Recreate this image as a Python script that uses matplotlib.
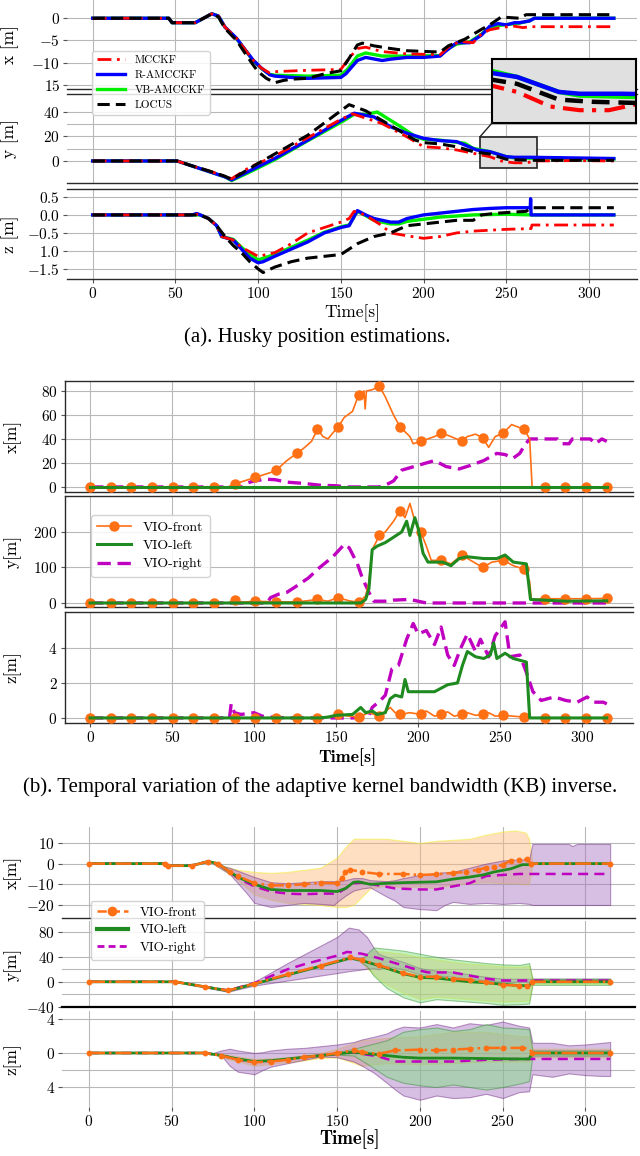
import numpy as np
import matplotlib
matplotlib.use('Agg')
import matplotlib.pyplot as plt
from matplotlib.patches import Rectangle, ConnectionPatch
from matplotlib.lines import Line2D

plt.rcParams['font.family'] = ['cmr10', 'DejaVu Serif']
plt.rcParams['mathtext.fontset'] = 'cm'
plt.rcParams['axes.formatter.use_mathtext'] = True

# ---------------- (a) Husky position estimations: (t, value) ----------------
a_x_red = [(0, 0), (46, 0), (48, -1), (62, -1), (72, 1), (76, 0.5), (80, -2), (87, -4.5), (92, -7), (97, -9.4),
           (102, -11.2), (107, -12.3), (110, -12), (130, -11.7), (150, -11.5), (155, -9), (160, -6.8), (165, -6.5),
           (175, -7.5), (190, -8), (210, -8.2), (215, -6.5), (222, -5.2), (230, -5.5), (235, -3.5), (240, -2.6),
           (248, -2), (255, -1.8), (260, -2.1), (265, -1.9), (315, -1.9)]
a_x_blue = [(0, 0), (46, 0), (48, -1), (62, -1), (72, 1), (76, 0.5), (80, -2), (87, -4.5), (92, -7), (97, -9.4),
            (102, -11.2), (107, -12.7), (110, -13), (120, -13.3), (130, -13.5), (150, -13.3), (153, -12.5),
            (160, -9.5), (165, -8.8), (175, -9.5), (180, -9.2), (190, -8.8), (200, -8.8), (210, -8.5), (213, -7.5),
            (220, -5.5), (228, -5.5), (235, -3.8), (240, -1.8), (245, -1.2), (250, -1.5), (255, -1.0), (258, -1.0),
            (264, -0.6), (267, 0), (315, 0)]
a_x_green = [(0, 0), (46, 0), (48, -1), (62, -1), (72, 1), (76, 0.5), (80, -2), (87, -4.6), (92, -7.1), (97, -9.5),
             (102, -11.3), (107, -12.6), (110, -12.8), (130, -13), (150, -12.8), (154, -11.5), (160, -8.5),
             (165, -7.8), (175, -8.5), (190, -8.5), (210, -8.4), (214, -7), (220, -5.8), (228, -5.3), (235, -3.6),
             (240, -2), (248, -1.5), (258, -1.1), (264, -0.6), (267, 0), (315, 0)]
a_x_black = [(0, 0), (46, 0), (48, -1), (62, -1), (72, 1), (76, 0.3), (80, -2.3), (87, -5), (92, -7.8), (97, -10.5),
             (100, -12), (105, -13.5), (110, -14.5), (115, -14), (120, -13.7), (130, -13.5), (140, -12.5),
             (150, -11.8), (155, -9), (160, -6), (163, -5.6), (170, -6.2), (180, -6.8), (190, -7.3), (210, -7.6),
             (215, -6.2), (225, -4.7), (235, -2.5), (240, -1.5), (247, 0.3), (250, 0.2), (258, 0), (262, 0.8),
             (315, 0.8)]

a_y_red = [(0, 0), (51, 0), (60, -4), (70, -8), (80, -12.5), (84, -14.5), (95, -5), (110, 4), (130, 19), (150, 34),
           (157, 38.5), (165, 35), (175, 30.5), (190, 19.7), (200, 11.6), (210, 10.8), (220, 9), (230, 6.3),
           (240, 3.5), (248, -0.5), (255, -1.5), (262, -1.5), (268, 0), (290, 0.3), (315, 0)]
a_y_blue = [(0, 0), (51, 0), (60, -4), (70, -8.5), (80, -13), (84, -15.5), (95, -8), (110, 2), (130, 17), (150, 33),
            (158, 39), (170, 36), (180, 28), (190, 22.6), (200, 18.5), (210, 16.6), (220, 15.8), (225, 13),
            (232, 9), (240, 7.6), (250, 3.5), (255, 3), (265, 3), (290, 2.5), (315, 2)]
a_y_green = [(0, 0), (51, 0), (60, -4), (70, -8.5), (80, -13), (84, -16), (95, -9), (110, 1), (130, 16.5),
             (150, 31.5), (158, 38), (165, 38), (172, 40), (185, 29), (195, 20), (200, 17.7), (210, 17), (225, 14.4),
             (230, 10.3), (240, 7.6), (250, 3.5), (255, 2.5), (265, 2.2), (290, 1.8), (315, 1.5)]
a_y_black = [(0, 0), (51, 0), (60, -4), (70, -8), (80, -12.5), (84, -15), (100, -2), (130, 21), (145, 36), (155, 46),
             (165, 41), (175, 33), (185, 25), (195, 17), (200, 15), (210, 13.9), (220, 11.6), (230, 7.6), (240, 5.7),
             (250, 1.4), (258, 0.8), (268, 0.5), (315, 0.5)]

a_z_red = [(0, 0), (60, 0), (63, 0.02), (65, 0), (70, -0.1), (75, -0.3), (78, -0.6), (85, -0.7), (90, -0.9),
           (100, -1.15), (110, -1.05), (120, -0.8), (130, -0.5), (140, -0.35), (150, -0.2), (155, -0.1), (158, 0.1),
           (162, 0.05), (168, -0.1), (175, -0.3), (180, -0.5), (190, -0.58), (200, -0.65), (210, -0.6), (220, -0.5),
           (230, -0.45), (250, -0.4), (265, -0.38), (265.5, -0.28), (315, -0.28)]
a_z_blue = [(0, 0), (60, 0), (63, 0.04), (65, 0), (70, -0.1), (75, -0.3), (78, -0.6), (85, -0.7), (90, -0.95),
            (95, -1.2), (100, -1.33), (103, -1.3), (110, -1.15), (120, -0.95), (130, -0.75), (140, -0.5),
            (150, -0.35), (155, -0.3), (160, 0.12), (165, 0.0), (170, -0.1), (180, -0.2), (185, -0.2), (190, -0.1),
            (200, 0.0), (210, 0.05), (220, 0.1), (230, 0.15), (240, 0.18), (250, 0.2), (264.5, 0.2), (264.7, 0.45),
            (265, 0), (315, 0)]
a_z_green = [(0, 0), (60, 0), (65, 0), (70, -0.1), (75, -0.3), (78, -0.6), (85, -0.68), (90, -0.9), (95, -1.1),
             (100, -1.25), (110, -1.1), (120, -0.9), (130, -0.7), (140, -0.48), (150, -0.33), (155, -0.28),
             (160, 0.1), (165, -0.02), (170, -0.15), (180, -0.25), (185, -0.25), (190, -0.18), (200, -0.12),
             (210, -0.06), (220, -0.03), (230, 0), (250, 0.02), (265, 0.0), (315, 0)]
a_z_black = [(0, 0), (60, 0), (65, 0), (70, -0.1), (75, -0.3), (80, -0.6), (85, -0.85), (90, -1.05), (95, -1.3),
             (100, -1.5), (103, -1.6), (110, -1.45), (120, -1.3), (130, -1.2), (150, -1.1), (155, -0.95), (160, -0.8),
             (170, -0.6), (180, -0.5), (190, -0.3), (200, -0.25), (210, -0.2), (220, -0.15), (230, -0.15), (235, 0.0),
             (245, 0.05), (255, 0.08), (262, 0.1), (265, 0.2), (315, 0.2)]

zoom_box = (234, 268.5, -5.7, 19.6)   # t0, t1, y0, y1 of the zoomed region
zoom_ylim = (-5, 12.5)

# ---------------- (b) kernel bandwidth inverse ----------------
mark_step = 12.6
b_x_front = [(0, 0), (12.6, 0), (25.2, 0), (37.8, 0), (50.4, 0), (63, 0), (75.6, 0), (84, 0), (88.2, 2.5),
             (100.8, 8), (110, 12), (113.4, 14), (120, 22), (126, 28), (130, 32), (135, 38), (138.6, 48), (142, 42),
             (145, 40), (148, 45), (151.2, 50), (155, 58), (160, 63), (163.8, 77), (167, 80), (167.7, 65),
             (168.5, 80), (172, 81), (176.4, 84), (180, 75), (185, 60), (189, 50), (195, 42), (197, 36), (201.6, 38),
             (210, 42), (214.2, 45), (220, 42), (226.8, 38), (230, 42), (235, 44), (239.4, 41), (243, 33), (247, 42),
             (252, 45), (257, 52), (264.6, 48), (268, 40), (269.5, 0), (277.2, 0), (289.8, 0), (302.4, 0), (315, 0)]
b_y_front = [(0, 0), (12.6, 0), (25.2, 0), (37.8, 0), (50.4, 0), (63, 0), (75.6, 0), (84, 0), (88.2, 8), (92, 2),
             (100.8, 5), (113.4, 3), (126, 3), (132, 6), (138.6, 10), (145, 5), (151.2, 15), (158, 6), (163.8, 2),
             (168, 20), (170, 60), (172, 150), (176.4, 190), (180, 200), (185, 230), (189, 260), (192, 240),
             (195, 280), (198, 230), (201.6, 200), (205, 160), (208, 120), (214.2, 120), (220, 110), (226.8, 135),
             (232, 120), (239.4, 100), (245, 115), (252, 120), (258, 105), (264.6, 95), (268, 60), (269, 10),
             (277.2, 12), (289.8, 12), (302.4, 12), (315, 13)]
b_z_front = [(0, 0), (12.6, 0), (25.2, 0), (37.8, 0), (50.4, 0), (63, 0), (75.6, 0), (88.2, 0), (100.8, 0),
             (113.4, 0), (126, 0), (138.6, 0), (145, 0.05), (151.2, 0.2), (158, 0.1), (163.8, 0.05), (170, 0.3),
             (176.4, 0.1), (183, 0.6), (186, 0.3), (189, 0.2), (195, 0.3), (201.6, 0.2), (205, 0.4), (210, 0.1),
             (214.2, 0.2), (218, 0.35), (222, 0.1), (226.8, 0.2), (230, 0.3), (235, 0.15), (239.4, 0.2), (243, 0.3),
             (247, 0.1), (252, 0.15), (258, 0.1), (264.6, 0.05), (268, 0), (277.2, 0), (289.8, 0), (302.4, 0),
             (315, 0)]
b_x_left = [(0, 0), (315, 0)]
b_y_left = [(0, 0), (165, 0), (168, 10), (170, 40), (172, 150), (175, 160), (180, 170), (185, 185), (190, 200),
            (193, 230), (195, 190), (198, 240), (200, 210), (203, 140), (206, 115), (215, 115), (220, 105), (225, 125),
            (230, 130), (240, 125), (248, 125), (253, 135), (258, 115), (266, 110), (268.5, 10), (290, 5), (315, 6)]
b_z_left = [(0, 0), (140, 0), (145, 0.05), (150, 0.15), (160, 0.2), (165, 0.6), (168, 0.3), (172, 0.4), (175, 0.2),
            (180, 0.3), (183, 1.1), (186, 1.3), (190, 1.2), (192, 2.2), (194, 1.5), (200, 1.5), (210, 1.5),
            (218, 1.9), (224, 2.0), (227, 3.0), (230, 3.8), (235, 3.5), (240, 3.4), (244, 3.6), (246, 4.3),
            (248, 3.4), (253, 3.7), (258, 3.4), (266, 3.2), (268, 0), (315, 0)]
b_x_right = [(0, 0), (93, 0), (95, 3), (100, 5), (107, 6.5), (113, 6), (120, 4), (130, 3), (140, 1.5), (150, 1),
             (157, 0), (176, 0), (180, 1.5), (185, 5), (190, 14), (200, 18), (210, 22), (217, 17), (225, 15),
             (232, 18), (240, 22), (248, 28), (253, 27), (258, 24), (262, 28), (265, 35), (268, 40), (285, 40),
             (288, 36), (292, 36), (294, 40), (305, 40), (308, 36), (312, 40), (315, 38)]
b_y_right = [(0, 0), (108, 0), (110, 15), (115, 25), (120, 30), (125, 45), (133, 70), (140, 100), (148, 130),
             (155, 165), (158, 155), (163, 110), (166, 70), (170, 30), (173, 5), (180, 5), (185, 8), (195, 10),
             (200, 5), (205, 0), (315, 0)]
b_z_right = [(0, 0), (85, 0), (86, 0.8), (88, 0.3), (92, 0.2), (100, 0.3), (105, 0.1), (110, 0.05), (120, 0),
             (160, 0), (170, 0.1), (172, 0.6), (177, 1.0), (180, 1.3), (184, 2.8), (188, 3.0), (193, 4.5), (197, 5.4),
             (200, 4.8), (205, 5.0), (210, 4.2), (214, 5.2), (218, 3.6), (222, 3.0), (226, 4.0), (230, 4.8),
             (235, 3.8), (238, 4.5), (243, 3.5), (247, 4.7), (253, 5.5), (256, 3.5), (262, 3.6), (266, 2.6),
             (270, 1.5), (275, 1.0), (283, 1.2), (290, 1.0), (297, 0.9), (303, 1.2), (307, 0.9), (313, 0.9),
             (315, 0.8)]

# ---------------- (c) VIO estimates with bounds ----------------
c_x_front = [(0, 0), (46, 0), (48, -1), (62, -1), (72, 1), (78, 0), (85, -4), (90, -6), (100, -9.5), (110, -10.5),
             (120, -10.5), (130, -10), (140, -9.3), (150, -9.5), (153, -7), (155, -4), (158, -3), (165, -4),
             (175, -5), (190, -5), (200, -5.5), (210, -5.2), (220, -4.5), (228, -4), (235, -3), (240, -2),
             (245, -1.5), (250, -0.5), (255, 1.5), (260, 1.8), (265, 2), (267, 0), (315, 0)]
c_x_left = [(0, 0), (46, 0), (48, -1), (62, -1), (72, 1), (78, 0), (85, -4), (90, -6.5), (100, -10), (110, -12.5),
            (120, -13), (140, -13), (150, -13.5), (155, -12), (160, -9), (163, -8.8), (170, -10), (180, -9.5),
            (190, -9.2), (200, -9), (210, -8.8), (220, -7.5), (230, -6.5), (238, -5.5), (245, -4), (255, -2.5),
            (262, -0.5), (266, -0.5), (268, 0), (315, 0)]
c_x_right = [(0, 0), (46, 0), (48, -1), (62, -1), (72, 1), (78, 0), (85, -4), (90, -7), (100, -11), (110, -13.5),
             (120, -14.5), (130, -14.8), (140, -14.5), (150, -14.5), (155, -12), (160, -9.5), (165, -9.2),
             (175, -10.5), (185, -12), (200, -12.5), (210, -12.5), (220, -11), (230, -9.5), (240, -6), (250, -5.5),
             (260, -5), (315, -5)]
# bands: (t, lower, upper)
c_x_front_band = [(75, 0, 0), (85, -5, -2), (90, -8, -3), (100, -15, -4), (110, -17.5, -4.5), (120, -19, -4),
                  (130, -19.5, -3), (140, -20, -2), (150, -21, 3), (155, -21, 8), (160, -20, 12), (170, -12, 12),
                  (180, -10.5, 12), (190, -11.5, 11), (200, -11, 10), (210, -12, 11), (220, -10, 11.5),
                  (230, -9.5, 12), (240, -9, 14), (250, -9.5, 15.5), (258, -9.5, 16), (264, -10, 15),
                  (266, -10, 12), (268, 0, 0), (315, 0, 0)]
c_x_right_band = [(75, 0, 0), (85, -5, -2), (95, -14, -5), (100, -19, -6.5), (110, -21, -9), (120, -20, -9.5),
                  (130, -19, -9), (140, -19.5, -8.5), (148, -20, -8.5), (150, -18.5, -8.5), (155, -15.5, -8),
                  (160, -13, -7), (165, -12, -7), (170, -11.5, -8), (180, -16, -8.5), (185, -18, -8), (190, -21, -7),
                  (200, -22, -5.5), (210, -22.5, -4.5), (215, -20, -4.2), (220, -18.5, -4), (230, -19.5, -2),
                  (240, -19, 0), (250, -19.5, 1.5), (260, -19, 2), (266, -19.5, 2), (268, -20, 9.5), (290, -20, 9.5),
                  (292, -20, 8.5), (295, -20, 9.5), (315, -20, 9.5)]

c_y_front = [(0, 0), (52, 0), (70, -8), (84, -14), (100, -3), (120, 12), (140, 26), (158, 39), (165, 35), (175, 27),
             (190, 14), (200, 8), (210, 8), (220, 5), (230, 3), (240, -1), (250, -5), (260, -6), (265, -6), (268, 0),
             (315, 0)]
c_y_left = [(0, 0), (52, 0), (70, -8), (84, -14.5), (100, -3.5), (120, 11), (140, 25), (158, 38), (165, 34),
            (175, 26), (190, 13), (200, 7), (210, 6), (220, 3), (230, 0), (240, -1.5), (250, -4), (260, -6),
            (266, -6.5), (268, 0), (315, 0)]
c_y_right = [(0, 0), (52, 0), (70, -8), (84, -14), (100, -2), (120, 20), (130, 28), (140, 35), (150, 42), (156, 48),
             (165, 45), (175, 38), (180, 34), (190, 26), (200, 18), (205, 15), (220, 15), (230, 10), (240, 5),
             (250, 2), (315, 2)]
c_y_right_band = [(52, 0, 0), (70, -9, -7), (84, -16, -12), (100, -6, 0), (110, -2, 15), (120, 2, 30), (130, 6, 44),
                  (140, 10, 58), (150, 14, 72), (157, 17, 87), (163, 19, 84), (168, 21, 72), (172, 22, 55),
                  (175, 20, 45), (180, 25, 40), (190, 20, 32), (200, 12, 22), (210, 10, 18), (220, 8, 16),
                  (230, 5, 12), (240, 2, 8), (250, 0, 5), (315, 0, 5)]
c_y_left_band = [(165, 30, 36), (168, 25, 45), (172, 10, 55), (180, -10, 53), (190, -25, 50), (200, -33, 45),
                 (210, -28, 40), (220, -30, 36), (230, -32, 33), (240, -34, 30), (250, -37, 28), (260, -36, 27),
                 (266, -35, 30), (268, -5, 5), (315, -5, 5)]
c_y_front_band = [(165, 30, 36), (172, 12, 50), (180, -5, 48), (190, -18, 45), (200, -28, 40), (210, -24, 36),
                  (220, -26, 32), (230, -28, 29), (240, -30, 27), (250, -32, 25), (260, -31, 24), (266, -30, 26),
                  (268, -3, 3), (315, -3, 3)]

c_z_front = [(0, 0), (70, 0), (80, -0.3), (90, -0.8), (100, -1.1), (110, -1.0), (120, -0.8), (130, -0.5),
             (140, -0.3), (150, 0), (160, 0.3), (165, 0.1), (175, -0.1), (185, 0.3), (200, 0.4), (210, 0.3),
             (220, 0.4), (230, 0.5), (240, 0.6), (250, 0.6), (262, 0.6), (266, 0.5), (268, 0), (315, 0)]
c_z_left = [(0, 0), (70, 0), (80, -0.3), (90, -0.7), (100, -1.0), (110, -0.9), (120, -0.7), (130, -0.5), (140, -0.3),
            (150, -0.1), (160, 0.1), (170, -0.1), (180, -0.3), (190, -0.5), (200, -0.6), (220, -0.6), (240, -0.65),
            (260, -0.7), (266, -0.7), (268, 0), (315, 0)]
c_z_right = [(0, 0), (70, 0), (80, -0.3), (90, -0.75), (100, -1.05), (110, -0.95), (120, -0.75), (130, -0.5),
             (140, -0.3), (150, -0.1), (160, 0.05), (175, -0.4), (185, -1.0), (200, -1.0), (220, -1.0), (240, -0.8),
             (260, -0.7), (315, -0.7)]
c_z_right_band = [(75, 0, 0), (80, -0.3, 0.3), (85, -1.5, 0.5), (90, -2.2, 0.3), (100, -2.5, 0.0), (105, -2.0, 0.1),
                  (110, -1.6, 0.3), (120, -1.2, 0.5), (130, -0.8, 0.6), (140, -0.4, 0.8), (150, -0.5, 1.0),
                  (160, -1.0, 1.3), (165, -1.5, 1.6), (172, -2.3, 1.9), (180, -3.5, 2.3), (185, -4.3, 2.8),
                  (190, -5.0, 3.1), (200, -5.5, 3.0), (210, -5.0, 3.4), (220, -5.3, 3.0), (230, -5.2, 3.5),
                  (240, -4.8, 3.3), (250, -5.3, 3.7), (260, -4.6, 3.2), (266, -4.5, 3.0), (268, -2.5, 1.2),
                  (280, -2.8, 1.2), (290, -2.4, 0.9), (300, -2.6, 1.0), (310, -2.7, 1.2), (315, -2.7, 1.3)]
c_z_left_band = [(150, -0.2, 0.1), (160, -0.3, 0.5), (170, -1.5, 1.0), (180, -2.8, 1.5), (190, -3.5, 2.5),
                 (200, -3.8, 2.8), (210, -4.0, 3.0), (220, -3.7, 2.6), (230, -4.0, 2.8), (240, -4.3, 3.4),
                 (250, -4.0, 3.0), (260, -3.6, 2.9), (266, -3.3, 2.8), (268, -0.3, 0.3), (315, -0.3, 0.3)]
c_z_front_band = [(80, -0.5, -0.1), (100, -1.5, -0.7), (120, -1.1, -0.5), (140, -0.6, 0), (150, -0.5, 0.5),
                  (165, -1.5, 1.5), (180, -1.2, 1.8), (200, -1.3, 2.0), (220, -1.2, 2.5), (240, -1.0, 2.5),
                  (260, -1.0, 2.0), (266, -1.0, 2.0), (268, -0.5, 0.5), (315, -0.5, 0.5)]

time_ticks = [0, 50, 100, 150, 200, 250, 300]

ORANGE = '#ff6f14'
GREEN = '#1f8a1f'
MAGENTA = '#c000c0'

W, H = 640, 1156


def rect(left, right, top, bottom):
    return [left / W, 1 - bottom / H, (right - left) / W, (bottom - top) / H]


def cols(a):
    a = np.array(a, dtype=float)
    return [a[:, i] for i in range(a.shape[1])]


def style(ax, xlim, ylim, spines, bottom_axis=False, spine_lw=1.0):
    ax.set_xlim(xlim)
    ax.set_ylim(ylim)
    for s in ['left', 'right', 'top', 'bottom']:
        ax.spines[s].set_visible(s in spines)
        ax.spines[s].set_color('#2a2a2a')
        ax.spines[s].set_linewidth(spine_lw)
    ax.set_xticks(time_ticks)
    ax.grid(True, which='both', color='#b8b8b8', lw=0.8)
    ax.set_axisbelow(True)
    ax.tick_params(labelsize=11, length=3, width=0.8, color='#555555', pad=2)
    ax.tick_params(which='minor', length=0)
    if not bottom_axis:
        ax.tick_params(axis='x', labelbottom=False, length=0)


fig = plt.figure(figsize=(6.4, 11.56), dpi=100)

# ======================= (a) =======================
a_xlim = (-15.5, 329)
ax_a = [fig.add_axes(rect(67, 637, 0, 89)),
        fig.add_axes(rect(67, 637, 94, 183)),
        fig.add_axes(rect(67, 637, 189, 279))]
a_sets = [(a_x_red, a_x_blue, a_x_green, a_x_black),
          (a_y_red, a_y_blue, a_y_green, a_y_black),
          (a_z_red, a_z_blue, a_z_green, a_z_black)]
a_handles = []
for ax, (r, b, g, k) in zip(ax_a, a_sets):
    hg, = ax.plot(*cols(g), color='#00ee00', lw=2.4, zorder=2)
    hb, = ax.plot(*cols(b), color='#0000ff', lw=2.4, zorder=3)
    hr, = ax.plot(*cols(r), color='#ff0000', lw=2.0, ls=(0, (5, 2, 1, 2)), zorder=4)
    hk, = ax.plot(*cols(k), color='black', lw=2.2, ls=(0, (4, 2)), zorder=5)
    a_handles = [hr, hb, hg, hk]

style(ax_a[0], a_xlim, (-15.9, 4.1), ['bottom'])
ax_a[0].set_yticks([-15, -10, -5, 0], ['$15$', '$-10$', '$-5$', '$0$'])
style(ax_a[1], a_xlim, (-18, 54.7), ['top', 'bottom'])
ax_a[1].set_yticks([0, 20, 40])
ax_a[1].set_yticks([10, 30], minor=True)
style(ax_a[2], a_xlim, (-1.78, 0.72), ['top', 'bottom'], bottom_axis=True)
ax_a[2].set_yticks([-1.5, -1.0, -0.5, 0.0, 0.5], ['$-1.5$', '$1.0$', '$-0.5$', '$0.0$', '$0.5$'])
for ax, lab in zip(ax_a, ['x [m]', 'y [m]', 'z [m]']):
    ax.set_ylabel(lab, fontsize=12.5)
    ax.yaxis.set_label_coords(-0.084, 0.5)

# zoom inset
t0, t1, y0, y1 = zoom_box
ax_a[1].add_patch(Rectangle((t0, y0), t1 - t0, y1 - y0, fc='#e0e0e0', ec='#222222', lw=1.2, zorder=1.5))
ins = fig.add_axes(rect(492, 636, 59, 123), zorder=3)
ins.set_facecolor('#e0e0e0')
ins.plot(*cols(a_y_green), color='#00ee00', lw=3.2)
ins.plot(*cols(a_y_blue), color='#0000ff', lw=3.2)
ins.plot(*cols(a_y_red), color='#ff0000', lw=3.0, ls=(0, (5, 2, 1, 2)))
ins.plot(*cols(a_y_black), color='black', lw=3.2, ls=(0, (4, 2)))
ins.set_xlim(t0, t1)
ins.set_ylim(zoom_ylim)
ins.set_xticks([])
ins.set_yticks([])
for s in ins.spines.values():
    s.set_linewidth(1.5)
con = ConnectionPatch(xyA=(t0, y1), coordsA=ax_a[1].transData, xyB=(0, 0), coordsB=ins.transAxes,
                      color='#222222', lw=1.0, zorder=4)
fig.add_artist(con)

fig.legend(a_handles, ['MCCKF', 'R-AMCCKF', 'VB-AMCCKF', 'LOCUS'], loc='upper left',
           bbox_to_anchor=(86 / W, 1 - 45 / H), fontsize=8, handlelength=2.6, labelspacing=0.45,
           borderpad=0.45, handletextpad=0.8, fancybox=True, framealpha=0.85)
fig.text(352 / W, 1 - 313 / H, 'Time[s]', ha='center', va='center', fontsize=12.5)
fig.text(317 / W, 1 - 337 / H, '(a). Husky position estimations.', ha='center', va='center',
         fontsize=15, family='Liberation Serif')

# ======================= (b) =======================
b_xlim = (-15.6, 331)
ax_b = [fig.add_axes(rect(64.5, 633, 381, 492)),
        fig.add_axes(rect(64.5, 633, 496, 607)),
        fig.add_axes(rect(64.5, 633, 612, 723))]
b_sets = [(b_x_front, b_x_left, b_x_right), (b_y_front, b_y_left, b_y_right), (b_z_front, b_z_left, b_z_right)]
for ax, (f, l, r) in zip(ax_b, b_sets):
    tf, vf = cols(f)
    k = np.round(tf / mark_step)
    marks = list(np.where(np.abs(tf - k * mark_step) < 0.05)[0])
    hf, = ax.plot(tf, vf, color=ORANGE, lw=1.2, marker='o', ms=6.5, markevery=marks, zorder=3)
    hl, = ax.plot(*cols(l), color=GREEN, lw=2.2, zorder=4)
    hr, = ax.plot(*cols(r), color=MAGENTA, lw=2.4, dashes=(4, 2), zorder=2)
    b_handles = [hf, hl, hr]
style(ax_b[0], b_xlim, (-4.2, 88.3), ['left', 'top', 'bottom'])
ax_b[0].set_yticks([0, 20, 40, 60, 80])
style(ax_b[1], b_xlim, (-11.3, 301), ['left', 'top', 'bottom'])
ax_b[1].set_yticks([0, 100, 200])
style(ax_b[2], b_xlim, (-0.29, 6.06), ['left', 'top', 'bottom'], bottom_axis=True)
ax_b[2].set_yticks([0, 2, 4])
for ax, lab in zip(ax_b, ['x[m]', 'y[m]', 'z[m]']):
    ax.set_ylabel(lab, fontsize=12.5)
    ax.yaxis.set_label_coords(-0.075, 0.5)
fig.legend(b_handles, ['VIO-front', 'VIO-left', 'VIO-right'], loc='upper left',
           bbox_to_anchor=(84 / W, 1 - 508 / H), fontsize=10, handlelength=2.4, labelspacing=0.4,
           borderpad=0.45, handletextpad=0.9, framealpha=0.85)
fig.text(347 / W, 1 - 757 / H, 'Time[s]', ha='center', va='center', fontsize=13, family='cmb10')
fig.text(320 / W, 1 - 787 / H, '(b). Temporal variation of the adaptive kernel bandwidth (KB) inverse.',
         ha='center', va='center', fontsize=15, family='Liberation Serif')

# ======================= (c) =======================
c_xlim = (-16.3, 330)
ax_c = [fig.add_axes(rect(62, 635, 827, 918)),
        fig.add_axes(rect(62, 635, 921, 1007)),
        fig.add_axes(rect(62, 635, 1011, 1107))]
c_bands = [(c_x_front_band, c_x_right_band, None),
           (c_y_front_band, c_y_right_band, c_y_left_band),
           (c_z_front_band, c_z_right_band, c_z_left_band)]
c_sets = [(c_x_front, c_x_left, c_x_right), (c_y_front, c_y_left, c_y_right), (c_z_front, c_z_left, c_z_right)]
for ax, (bf, br, bl), (f, l, r) in zip(ax_c, c_bands, c_sets):
    t, lo, hi = cols(bf)
    ax.fill_between(t, lo, hi, fc='#ffb878', alpha=0.45, ec='#f0f020', lw=0.9, zorder=1)
    t, lo, hi = cols(br)
    ax.fill_between(t, lo, hi, fc='#a673c2', alpha=0.45, ec='#6b1f7d', lw=0.8, zorder=1.1)
    if bl is not None:
        t, lo, hi = cols(bl)
        ax.fill_between(t, lo, hi, fc='#7ee07e', alpha=0.45, ec='#2a8a2a', lw=0.8, zorder=1.2)
    ax.plot(*cols(r), color=MAGENTA, lw=1.8, dashes=(4, 2.5), zorder=3)
    ax.plot(*cols(l), color=GREEN, lw=2.0, zorder=4)
    ax.plot(*cols(f), color=ORANGE, lw=1.8, ls='-.', marker='o', ms=3.2, markevery=0.0105, zorder=5)
style(ax_c[0], c_xlim, (-26.3, 17.7), ['bottom'])
ax_c[0].set_yticks([-20, -10, 0, 10])
style(ax_c[1], c_xlim, (-40.5, 97.6), ['bottom'], spine_lw=1.6)
ax_c[1].spines['bottom'].set_color('black')
ax_c[1].set_yticks([-40, 0, 40, 80])
ax_c[1].set_yticks([-20, 20], minor=True)
style(ax_c[2], c_xlim, (-6.35, 4.94), [], bottom_axis=True)
ax_c[2].set_yticks([-4, 0, 4], ['$4$', '$0$', '$4$'])
ax_c[2].set_yticks([-2], minor=True)
for ax, lab in zip(ax_c, ['x[m]', 'y[m]', 'z[m]']):
    ax.set_ylabel(lab, fontsize=12.5)
    ax.yaxis.set_label_coords(-0.070, 0.5)
c_handles = [Line2D([], [], color=ORANGE, lw=1.8, ls='--', marker='o', ms=6),
             Line2D([], [], color=GREEN, lw=3),
             Line2D([], [], color=MAGENTA, lw=2, dashes=(2.5, 1.5))]
fig.legend(c_handles, ['VIO-front', 'VIO-left', 'VIO-right'], loc='upper left',
           bbox_to_anchor=(84 / W, 1 - 894 / H), fontsize=9.5, handlelength=2.4, labelspacing=0.4,
           borderpad=0.45, handletextpad=0.9, framealpha=0.85)
fig.text(350 / W, 1 - 1139 / H, 'Time[s]', ha='center', va='center', fontsize=13.5, family='cmb10')

fig.savefig('out.png', dpi=100)
